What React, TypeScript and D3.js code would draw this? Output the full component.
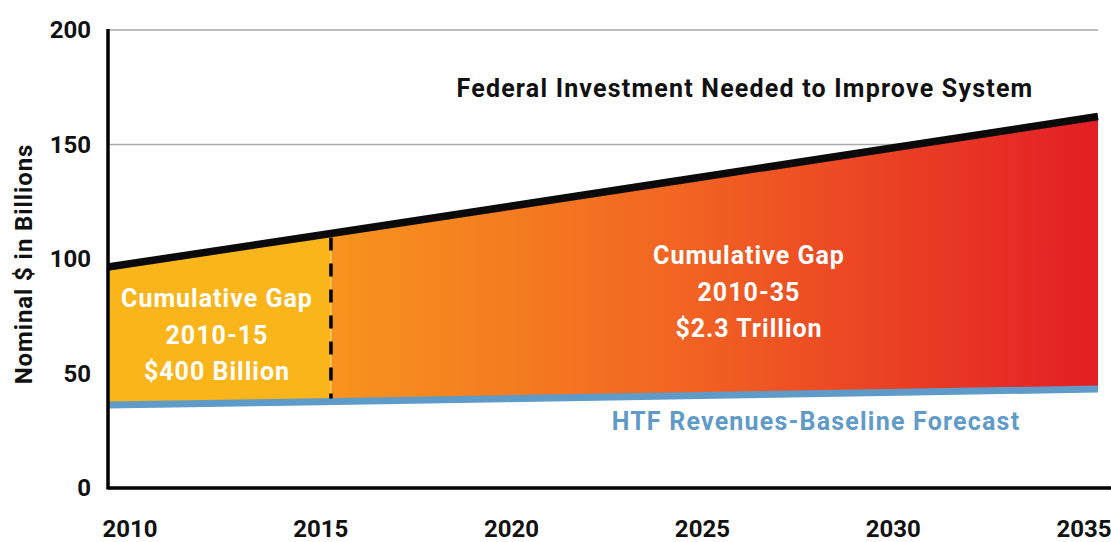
import React from 'react';
import * as d3 from 'd3';

// ---- Data ----
const years = [2010, 2015, 2020, 2025, 2030, 2035];
const neededValues = [96.5, 109.5, 122.6, 135.8, 149.0, 162.2];
const htfValues = [36.2, 37.6, 39.0, 40.4, 41.8, 43.2];
const yTicks = [0, 50, 100, 150, 200];
const gridTicks = [150, 200];
const xTickLabels = ['2010', '2015', '2020', '2025', '2030', '2035'];
const dividerYear = 2015.63;
const leftLabel = ['Cumulative Gap', '2010-15', '$400 Billion'];
const rightLabel = ['Cumulative Gap', '2010-35', '$2.3 Trillion'];
const topLabel = 'Federal Investment Needed to Improve System';
const bottomLabel = 'HTF Revenues-Baseline Forecast';
const yTitle = 'Nominal $ in Billions';

const W = 1111;
const H = 542;
const FONT = 'Roboto, "Open Sans", sans-serif';

export default function App() {
  const x = d3.scaleLinear().domain([2010, 2035]).range([108, 1098]);
  const xLab = d3.scaleLinear().domain([2010, 2035]).range([130, 1084]);
  const y = d3.scaleLinear().domain([0, 200]).range([488, 30]);

  const rows = years.map((yr, i) => ({ yr, hi: neededValues[i], lo: htfValues[i] }));
  const interp = (arr: number[], yr: number) => {
    const f = d3.scaleLinear().domain(years).range(arr);
    return f(yr);
  };
  const divRow = { yr: dividerYear, hi: interp(neededValues, dividerYear), lo: interp(htfValues, dividerYear) };
  const leftRows = [rows[0], divRow];
  const rightRows = [divRow, ...rows.filter((r) => r.yr > dividerYear)];

  const area = d3
    .area<{ yr: number; hi: number; lo: number }>()
    .x((d) => x(d.yr))
    .y0((d) => y(d.lo))
    .y1((d) => y(d.hi));
  const lineHi = d3
    .line<{ yr: number; hi: number; lo: number }>()
    .x((d) => x(d.yr))
    .y((d) => y(d.hi));
  const lineLo = d3
    .line<{ yr: number; hi: number; lo: number }>()
    .x((d) => x(d.yr))
    .y((d) => y(d.lo));

  const xd = x(dividerYear);

  return (
    <svg
      width={W}
      height={H}
      style={{ position: 'absolute', left: 0, top: 0, background: '#fff' }}
      fontFamily={FONT}
    >
      <defs>
        <linearGradient id="gapGrad" gradientUnits="userSpaceOnUse" x1={xd} x2={x(2035)} y1={0} y2={0}>
          <stop offset="0" stopColor="#F7941E" />
          <stop offset="0.45" stopColor="#F26522" />
          <stop offset="1" stopColor="#E31E26" />
        </linearGradient>
      </defs>

      {/* gridlines */}
      {gridTicks.map((t) => (
        <line key={t} x1={x(2010)} x2={x(2035)} y1={y(t)} y2={y(t)} stroke="#A7A9AC" strokeWidth={1.3} />
      ))}

      {/* areas */}
      <path d={area(leftRows) || ''} fill="#F9B51A" />
      <path d={area(rightRows) || ''} fill="url(#gapGrad)" />
      <line x1={xd} x2={xd} y1={y(divRow.hi)} y2={y(divRow.lo)} stroke="#FDE3A0" strokeWidth={0.8} />

      {/* lines */}
      <path d={lineLo(rows) || ''} fill="none" stroke="#5F9BC9" strokeWidth={7} />
      <path d={lineHi(rows) || ''} fill="none" stroke="#0A0A0A" strokeWidth={7.5} />

      {/* dashed divider */}
      <line
        x1={xd}
        x2={xd}
        y1={y(divRow.hi) + 4}
        y2={y(divRow.lo) - 3}
        stroke="#000"
        strokeWidth={3.5}
        strokeDasharray="13 13"
      />

      {/* axes */}
      <line x1={x(2010)} x2={x(2010)} y1={y(200) - 1} y2={y(0) + 1.5} stroke="#000" strokeWidth={3.5} />
      <line x1={x(2010)} x2={W} y1={y(0)} y2={y(0)} stroke="#000" strokeWidth={3.5} />

      {/* y tick labels */}
      {yTicks.map((t) => (
        <text key={t} x={91} y={y(t)} dy="0.35em" textAnchor="end" fontSize={24} fontWeight={700} fill="#111">
          {t}
        </text>
      ))}

      {/* x tick labels */}
      {years.map((yr, i) => (
        <text key={yr} x={xLab(yr)} y={537} textAnchor="middle" fontSize={24} fontWeight={700} fill="#111">
          {xTickLabels[i]}
        </text>
      ))}

      {/* y title */}
      <text
        transform={`translate(32,264) rotate(-90)`}
        textAnchor="middle"
        fontSize={24}
        fontWeight={700}
        letterSpacing={0.9}
        fill="#111"
      >
        {yTitle}
      </text>

      {/* annotations */}
      <text x={745} y={97} textAnchor="middle" fontSize={25} fontWeight={700} letterSpacing={1.2} fill="#111">
        {topLabel}
      </text>
      <text x={816} y={430} textAnchor="middle" fontSize={25} fontWeight={700} letterSpacing={1.2} fill="#5F9BC9">
        {bottomLabel}
      </text>
      {leftLabel.map((s, i) => (
        <text key={s} x={217} y={307 + i * 36.5} textAnchor="middle" fontSize={25} fontWeight={700} letterSpacing={1} fill="#fff">
          {s}
        </text>
      ))}
      {rightLabel.map((s, i) => (
        <text key={s} x={749} y={264 + i * 36.5} textAnchor="middle" fontSize={25} fontWeight={700} letterSpacing={1} fill="#fff">
          {s}
        </text>
      ))}
    </svg>
  );
}
